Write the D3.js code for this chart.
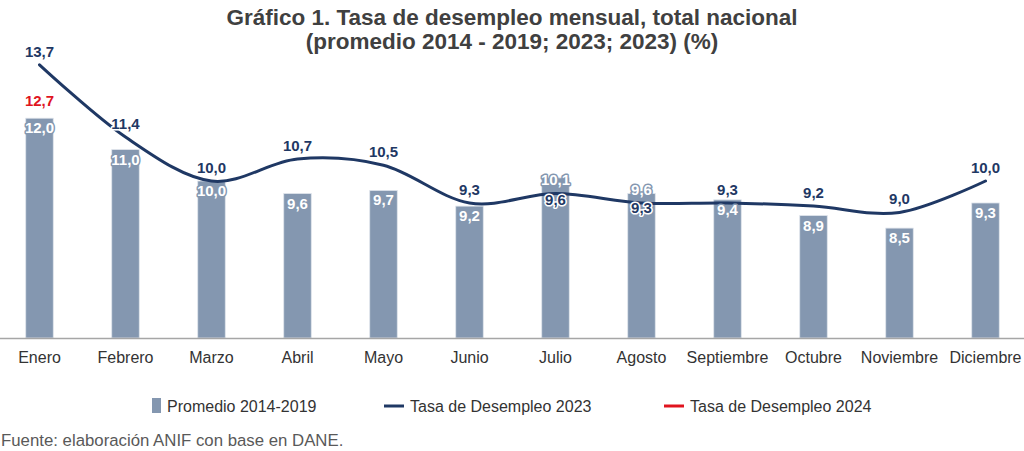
<!DOCTYPE html>
<html>
<head>
<meta charset="utf-8">
<script src="https://cdn.jsdelivr.net/npm/d3@7"></script>
<style>
  body { margin: 0; background: #fff; }
  text { font-family: "Liberation Sans", Arial, sans-serif; }
</style>
</head>
<body>
<div id="chart"></div>
<script>
// data
const meses = ["Enero", "Febrero", "Marzo", "Abril", "Mayo", "Junio", "Julio",
               "Agosto", "Septiembre", "Octubre", "Noviembre", "Diciembre"];
const promedio2014_2019 = [12.0, 11.0, 10.0, 9.6, 9.7, 9.2, 10.1, 9.6, 9.4, 8.9, 8.5, 9.3];
const tasa2023 = [13.7, 11.4, 10.0, 10.7, 10.5, 9.3, 9.6, 9.3, 9.3, 9.2, 9.0, 10.0];
const tasa2024 = [12.7];
const legendLabels = ["Promedio 2014-2019", "Tasa de Desempleo 2023", "Tasa de Desempleo 2024"];

const barColor = "#8497b0",
      navy = "#1f3864",
      red = "#e0141e";

const width = 1024, height = 451;
const plotBottom = 338, plotTop = 24;

const svg = d3.select("#chart")
  .append("svg")
    .attr("width", width)
    .attr("height", height);

// title
const title = svg.append("g")
  .attr("font-weight", "bold")
  .attr("font-size", 22.5)
  .attr("fill", "#404040")
  .attr("text-anchor", "middle");
title.append("text").attr("x", 512).attr("y", 25)
  .text("Gráfico 1. Tasa de desempleo mensual, total nacional");
title.append("text").attr("x", 512).attr("y", 49)
  .text("(promedio 2014 - 2019; 2023; 2023) (%)");

// scales
const x = d3.scaleBand()
  .domain(meses)
  .range([-3.5, 1028.5])
  .paddingInner(0.68)
  .paddingOuter(0.34);

const y = d3.scaleLinear()
  .domain([5, 15])
  .range([plotBottom, plotTop]);

const cx = m => x(m) + x.bandwidth() / 2;

// bars
svg.append("g")
  .selectAll("rect")
  .data(meses)
  .join("rect")
    .attr("x", d => x(d))
    .attr("width", x.bandwidth())
    .attr("y", (d, i) => y(promedio2014_2019[i]))
    .attr("height", (d, i) => plotBottom - y(promedio2014_2019[i]))
    .attr("fill", barColor)
    .attr("stroke", "#dfe4ec")
    .attr("stroke-width", 0.8);

// x axis
const xAxis = svg.append("g")
  .attr("transform", `translate(0,${plotBottom})`)
  .call(d3.axisBottom(x).tickSize(0).tickPadding(14));
xAxis.select(".domain")
  .attr("d", `M0,0.5H${width}`)
  .attr("stroke", "#a6a6a6")
  .attr("stroke-width", 1.3);
xAxis.selectAll("text")
  .attr("font-size", 16)
  .attr("fill", "#333")
  .attr("font-family", "Liberation Sans, Arial, sans-serif");

// lines
const line = d3.line()
  .x((d, i) => cx(meses[i]))
  .y(d => y(d))
  .curve(d3.curveCardinal.tension(0));

svg.append("path")
  .datum(tasa2023)
  .attr("d", line)
  .attr("fill", "none")
  .attr("stroke", navy)
  .attr("stroke-width", 3)
  .attr("stroke-linecap", "round");

svg.append("path")
  .datum(tasa2024)
  .attr("d", line)
  .attr("fill", "none")
  .attr("stroke", red)
  .attr("stroke-width", 3);

const fmt = v => d3.format(".1f")(v).replace(".", ",");

// bar labels (a couple sit higher to make room for the line labels)
const barDy = { Julio: 7, Agosto: 1 };
svg.append("g")
  .selectAll("text")
  .data(meses)
  .join("text")
    .attr("x", d => cx(d))
    .attr("y", (d, i) => y(promedio2014_2019[i]) + (barDy[d] ?? 15))
    .attr("text-anchor", "middle")
    .attr("font-size", 15)
    .attr("font-weight", "bold")
    .attr("fill", "#fff")
    .attr("stroke", barColor)
    .attr("stroke-width", 3)
    .attr("stroke-linejoin", "round")
    .attr("paint-order", "stroke")
    .text((d, i) => fmt(promedio2014_2019[i]));

// 2023 labels: above the point, below for Julio / Agosto
const below = { Julio: 11, Agosto: 10 };
svg.append("g")
  .selectAll("text")
  .data(meses)
  .join("text")
    .attr("x", d => cx(d))
    .attr("y", (d, i) => y(tasa2023[i]) + (below[d] ?? -8))
    .attr("text-anchor", "middle")
    .attr("font-size", 15)
    .attr("font-weight", "bold")
    .attr("fill", navy)
    .attr("stroke", "#fff")
    .attr("stroke-width", 3)
    .attr("stroke-linejoin", "round")
    .attr("paint-order", "stroke")
    .text((d, i) => fmt(tasa2023[i]));

// 2024 label
svg.append("g")
  .selectAll("text")
  .data(tasa2024)
  .join("text")
    .attr("x", (d, i) => cx(meses[i]))
    .attr("y", d => y(d) + 10)
    .attr("text-anchor", "middle")
    .attr("font-size", 15)
    .attr("font-weight", "bold")
    .attr("fill", red)
    .text(d => fmt(d));

// legend
const legend = svg.append("g").attr("font-size", 16).attr("fill", "#333");
legend.append("rect")
  .attr("x", 152).attr("y", 398).attr("width", 9).attr("height", 15)
  .attr("fill", barColor);
legend.append("text").attr("x", 167).attr("y", 412).text(legendLabels[0]);
legend.append("line")
  .attr("x1", 384).attr("x2", 404).attr("y1", 406).attr("y2", 406)
  .attr("stroke", navy).attr("stroke-width", 3);
legend.append("text").attr("x", 410).attr("y", 412).text(legendLabels[1]);
legend.append("line")
  .attr("x1", 664).attr("x2", 684).attr("y1", 406).attr("y2", 406)
  .attr("stroke", red).attr("stroke-width", 3);
legend.append("text").attr("x", 690).attr("y", 412).text(legendLabels[2]);

// source
svg.append("text")
  .attr("x", 1).attr("y", 446)
  .attr("font-size", 16.8)
  .attr("fill", "#595959")
  .text("Fuente: elaboración ANIF con base en DANE.");
</script>
</body>
</html>
